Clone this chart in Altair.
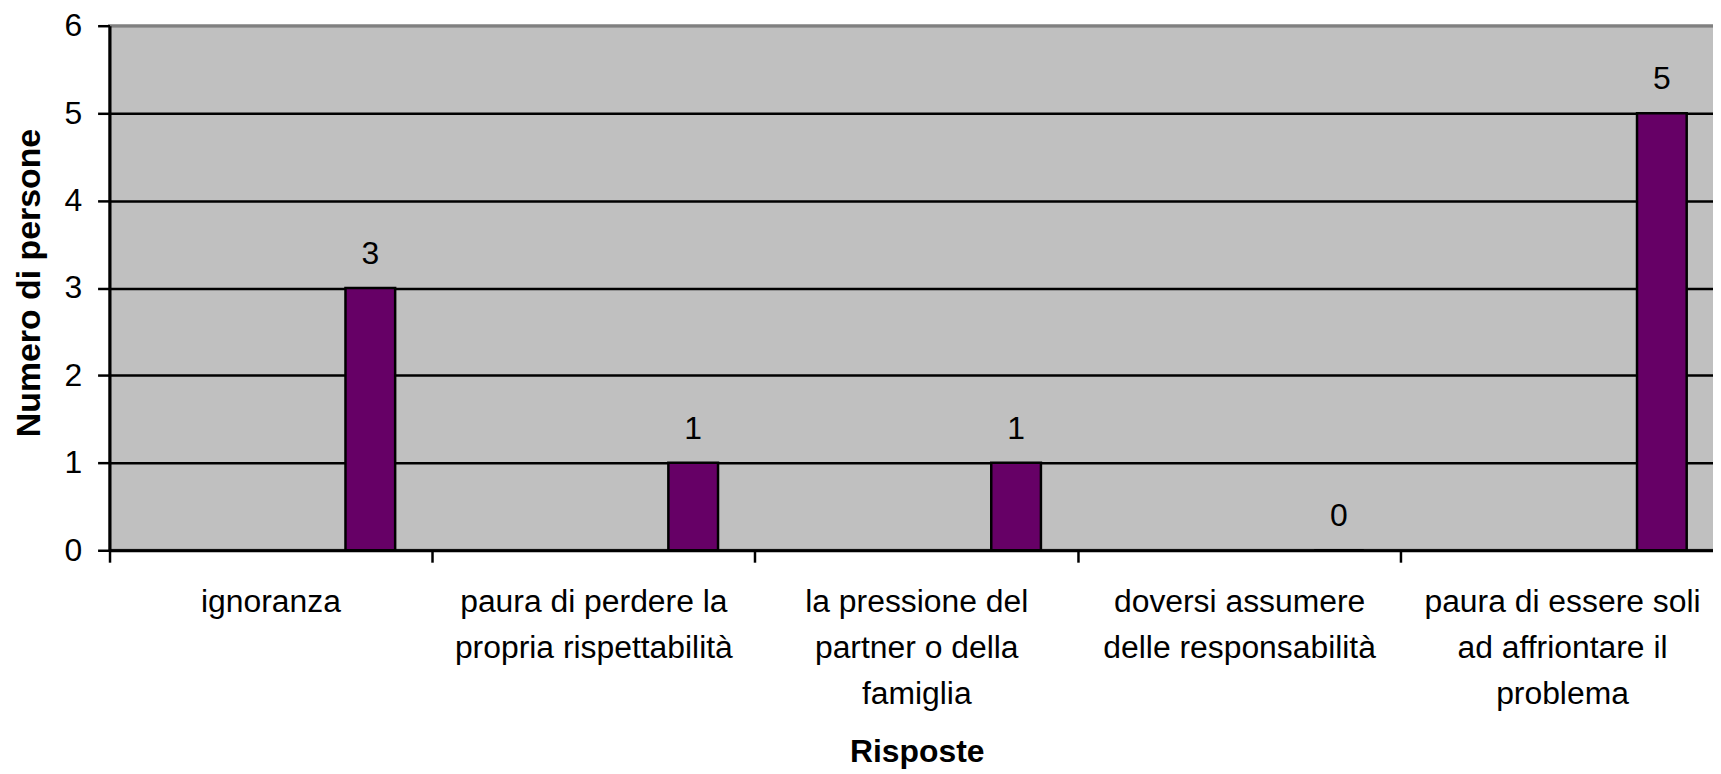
import json
import altair as alt
import pandas as pd

# ---- data ----
categories = [
    "ignoranza",
    "paura di perdere la propria rispettabilità",
    "la pressione del partner o della famiglia",
    "doversi assumere delle responsabilità",
    "paura di essere soli ad affriontare il problema",
]
label_lines = [
    ["ignoranza"],
    ["paura di perdere la", "propria rispettabilità"],
    ["la pressione del", "partner o della", "famiglia"],
    ["doversi assumere", "delle responsabilità"],
    ["paura di essere soli", "ad affriontare il", "problema"],
]
values = [3, 1, 1, 0, 5]
series_slots = ["s1", "s2", "s3", "s4", "s5"]
bar_series = ["s5", "s5", "s5", "s5", "s5"]
y_ticks = [0, 1, 2, 3, 4, 5, 6]

df = pd.DataFrame({"Risposte": categories, "Persone": values, "Serie": bar_series})

# multi-line axis labels
expr = "['']"
for cat, lines in reversed(list(zip(categories, label_lines))):
    expr = f"datum.value === {json.dumps(cat, ensure_ascii=False)} ? {json.dumps(lines, ensure_ascii=False)} : ({expr})"

FONT = "Liberation Sans"
W, H = 1622, 527

x_enc = alt.X(
    "Risposte:N",
    sort=categories,
    scale=alt.Scale(domain=categories, paddingInner=0, paddingOuter=0),
    axis=alt.Axis(
        title="Risposte",
        titleFont=FONT,
        titleFontSize=32,
        titleFontWeight="bold",
        titleColor="black",
        titleBaseline="alphabetic",
        titleY=212,
        titleX=W / 2,
        bandPosition=0,
        labelExpr=expr,
        labelFont=FONT,
        labelFontSize=32,
        labelColor="black",
        labelAlign="center",
        labelBaseline="alphabetic",
        labelLineHeight=46,
        labelPadding=50,
        labelLimit=600,
        labelOverlap=False,
        labelAngle=0,
        ticks=True,
        tickSize=12,
        tickColor="black",
        tickWidth=2.5,
        domainColor="black",
        domainWidth=3,
        grid=False,
    ),
)

xoff_enc = alt.XOffset(
    "Serie:N",
    scale=alt.Scale(domain=series_slots, paddingInner=0, paddingOuter=0.75),
)

y_enc = alt.Y(
    "Persone:Q",
    scale=alt.Scale(domain=[0, 6], nice=False, zero=True),
    axis=alt.Axis(
        title="Numero di persone",
        titleFont=FONT,
        titleFontSize=34,
        titleFontWeight="bold",
        titleColor="black",
        titleAngle=270,
        titleBaseline="alphabetic",
        titleAlign="center",
        titleX=-70,
        titleY=258,
        values=y_ticks,
        format="d",
        labelFont=FONT,
        labelFontSize=32,
        labelColor="black",
        labelPadding=16,
        tickSize=12,
        tickColor="black",
        tickWidth=2.5,
        domainColor="black",
        domainWidth=3,
        grid=True,
        gridColor={"condition": {"test": "datum.value === 6", "value": "#808080"}, "value": "black"},
        gridWidth=2.5,
    ),
)

bars = alt.Chart(df).mark_bar(
    color="#660066", stroke="black", strokeWidth=2.5
).encode(x=x_enc, xOffset=xoff_enc, y=y_enc)

labels = alt.Chart(df).mark_text(
    font=FONT, fontSize=32, color="black", baseline="alphabetic", align="center", dy=-24
).encode(
    x=alt.X("Risposte:N", sort=categories),
    xOffset=alt.XOffset("Serie:N"),
    y=alt.Y("Persone:Q"),
    text=alt.Text("Persone:Q", format="d"),
)

chart = (
    alt.layer(bars, labels)
    .properties(
        width=W,
        height=H,
        autosize=alt.AutoSizeParams(type="none"),
        padding={"left": 102, "top": 16, "right": -11, "bottom": 223},
        background="white",
    )
    .configure_view(fill="#C0C0C0", stroke="#808080", strokeWidth=3)
)

chart.save("out.html", embed_options={"renderer": "svg", "actions": False})
